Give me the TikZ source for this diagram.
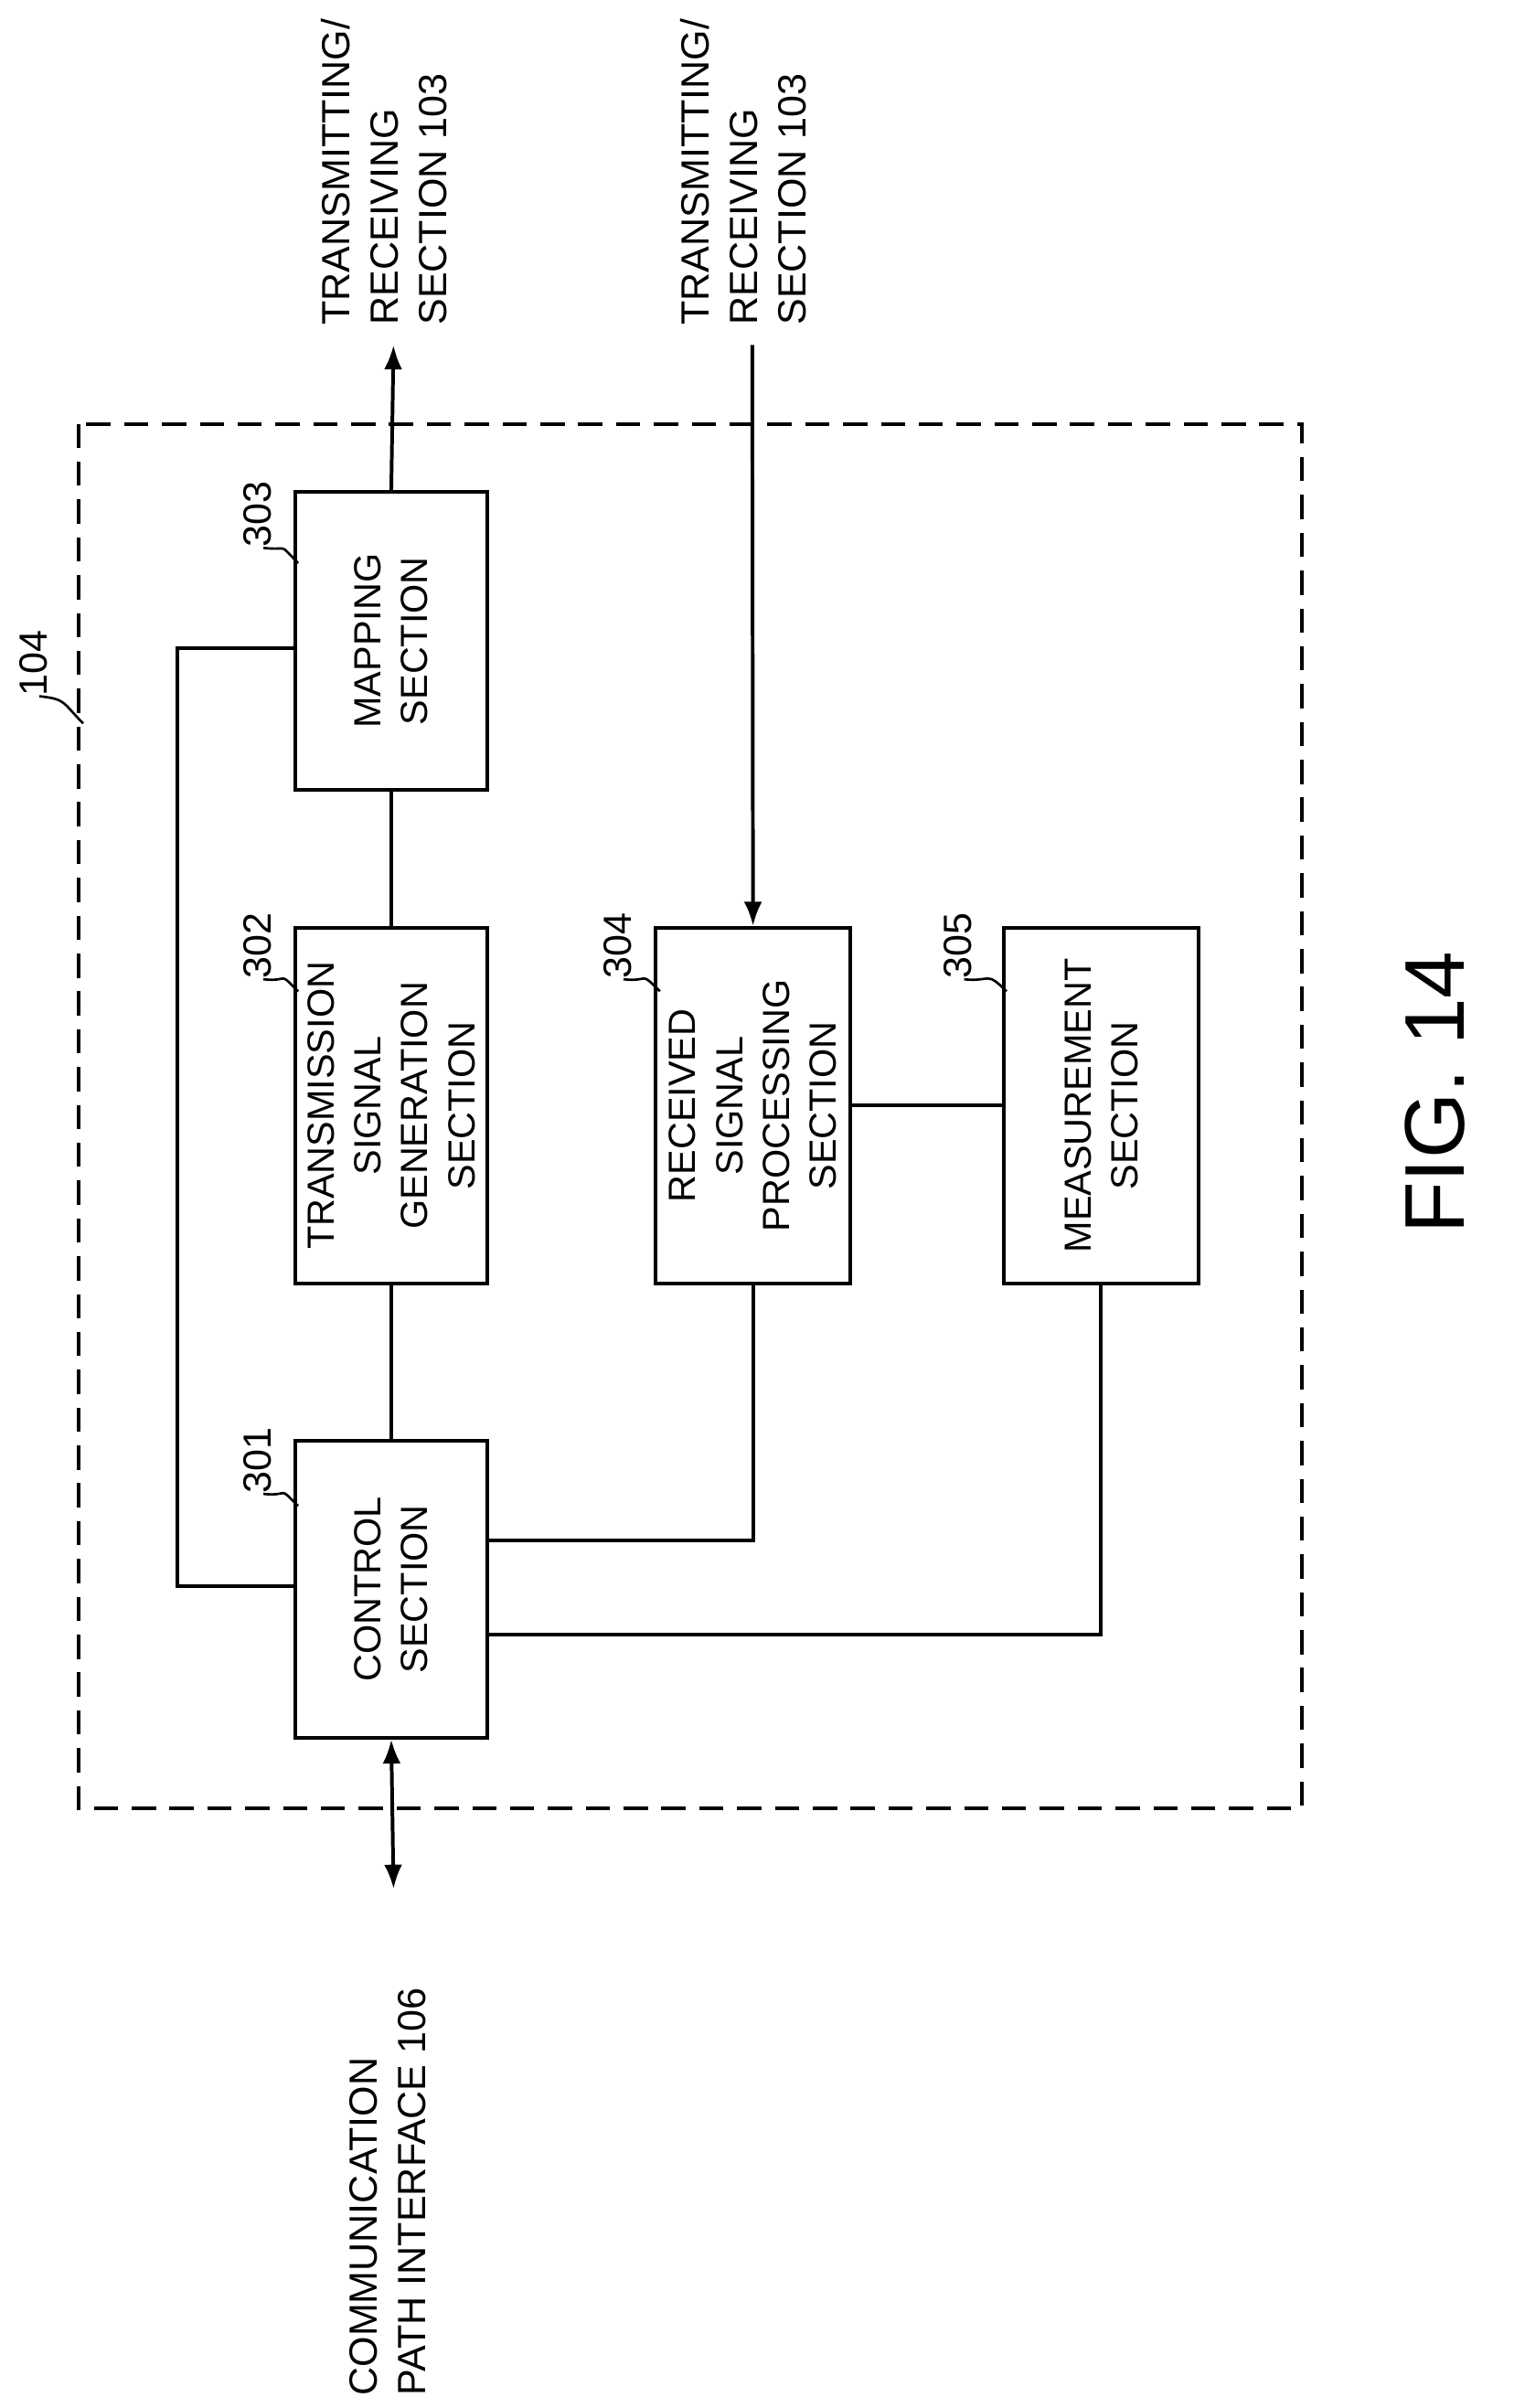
\documentclass[tikz,border=0pt]{standalone}
\usepackage{fontspec}
\setmainfont{Liberation Sans}
\usetikzlibrary{positioning, arrows.meta}

\tikzset{
  blk/.style={draw, line width=2.4pt, minimum width=235pt, minimum height=127pt, rotate=90,
    align=center, font=\fontsize{25}{31}\selectfont, inner sep=0pt},
  lbl/.style={font=\fontsize{26}{32}\selectfont, rotate=90, align=left, inner sep=0pt},
  wire/.style={line width=2.4pt},
  arr/.style={line width=2.4pt, -{Latex[length=16pt, width=12pt]}},
}

\begin{document}
\begin{tikzpicture}[x=1pt, y=-1pt]

    \useasboundingbox (0,0) rectangle (1000,1591);

    % outer frame
    \draw[line width=2.4pt, dash pattern=on 16pt off 9pt] (52,280) rectangle (860,1195);

    % blocks
    \node[blk, minimum width=197pt] (map) at (258.5,423.5) {MAPPING\\SECTION};
    \node[blk] (tsg) at (258.5,730.5) {TRANSMISSION\\SIGNAL\\GENERATION\\SECTION};
    \node[blk, minimum width=196pt] (ctl) at (258.5,1050) {CONTROL\\SECTION};
    \node[blk, minimum height=129pt] (rsp) at (497.5,730.5) {RECEIVED\\SIGNAL\\PROCESSING\\SECTION};
    \node[blk, minimum height=129pt] (mea) at (727.5,730.5) {MEASUREMENT\\SECTION};

    % free ends
    \coordinate (top1) at (260,228);
    \coordinate (top2) at (497,228);
    \coordinate (bot) at (260,1248);

    % connectors
    \draw[arr] (map.east) -- (top1);
    \draw[arr] (top2) -- (rsp.east);
    \draw[line width=2.4pt, {Latex[length=16pt, width=12pt]}-{Latex[length=16pt, width=12pt]}] (ctl.west) -- (bot);
    \draw[wire] (map) -- (tsg);
    \draw[wire] (tsg) -- (ctl);
    \draw[wire] (195,428) -- (117,428) -- (117,1048) -- (195,1048);
    \draw[wire] (322,1018) -| (rsp.west);
    \draw[wire] (322,1080) -| (mea.west);
    \draw[wire] (rsp) -- (mea);

    % outer labels
    \node[lbl, anchor=west] (t1) at (254,215) {TRANSMITTING/\\RECEIVING\\SECTION 103};
    \node[lbl, anchor=west] (t2) at (491,215) {TRANSMITTING/\\RECEIVING\\SECTION 103};
    \node[lbl, anchor=west] (cpi) at (256,1583) {COMMUNICATION\\PATH INTERFACE 106};
    \node[font=\fontsize{56}{60}\selectfont, rotate=90] (fig) at (948,722) {FIG. 14};

    % reference numerals
    \foreach \n/\x/\y/\cx/\cy in {303/170/340/197/372, 302/170/625/197/655, 301/170/965/197/995,
                                   304/408/625/436/655, 305/633/625/665/655, 104/22/438/55/478} {
      \node[lbl] (n\n) at (\x,\y) {\n};
      \draw[line width=1.6pt] (\x+4,\y+22) .. controls (\x+22,\y+24) and (\cx-14,\cy-14) .. (\cx,\cy);
    }
\end{tikzpicture}
\end{document}
